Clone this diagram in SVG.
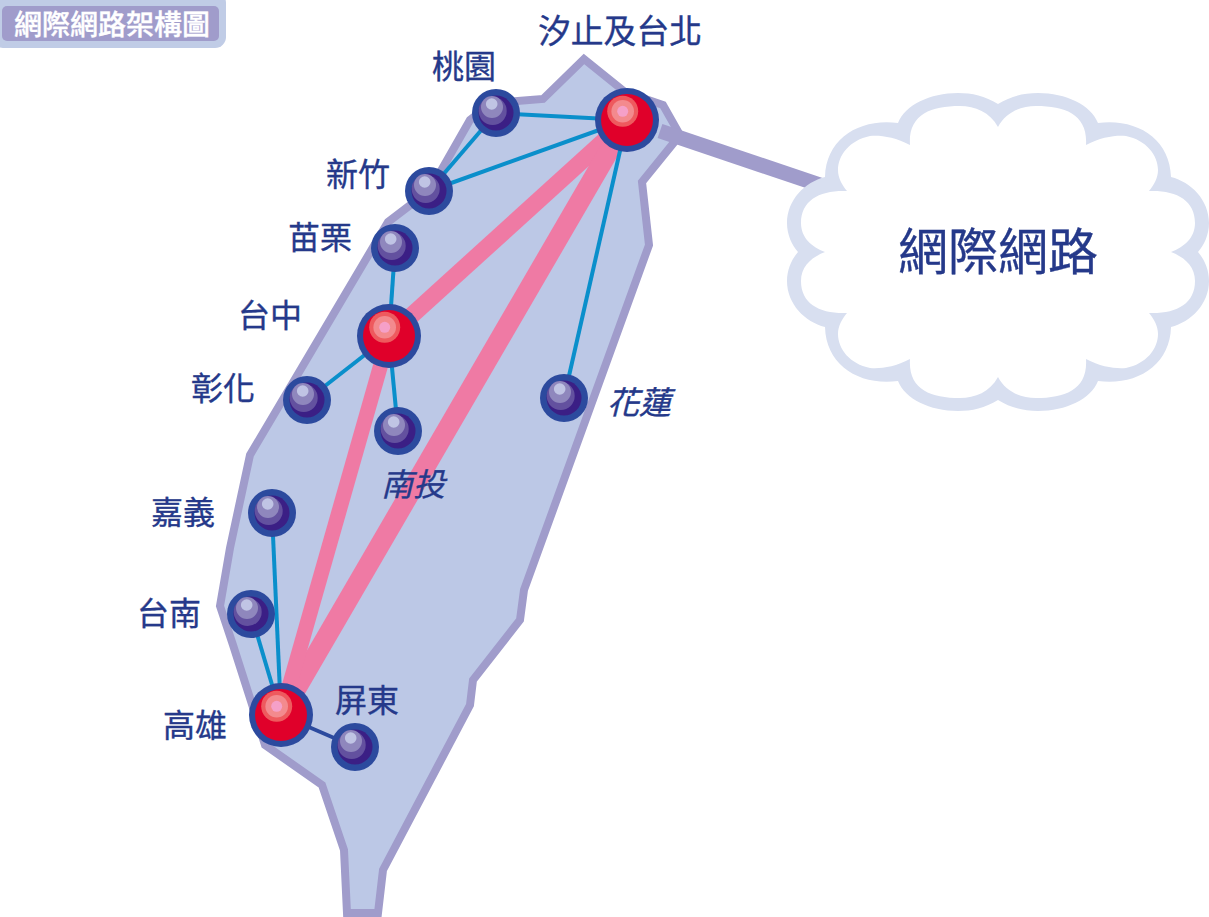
<svg xmlns="http://www.w3.org/2000/svg" width="1209" height="917" viewBox="0 0 1209 917">
<style>
text{font-family:"Noto Sans CJK TC","Noto Sans CJK SC",sans-serif;fill:#25398a;stroke:#25398a;stroke-width:.35;font-size:32px}
.it{font-style:italic}
.pink{stroke:#ef7aa4;fill:none}
.link{stroke:#0a8fcb;stroke-width:4;fill:none}
</style>
<defs>
<g id="small"><circle r="24" fill="#2c4a9e"/><circle r="17.500" fill="#3b1f85"/><circle cx="-3.300" cy="-2" r="14" fill="#63519f"/><circle cx="-4" cy="-6" r="11" fill="#8f87bd"/><circle cx="-4.300" cy="-9" r="5.800" fill="#c0c4e4"/></g>
<g id="big"><circle r="32" fill="#2c4a9e"/><circle r="26" fill="#e0002a"/><circle cx="-4.300" cy="-8.700" r="15.500" fill="#ee5a5e"/><circle cx="-4.300" cy="-8.700" r="11.300" fill="#f38a8e"/><circle cx="-4.300" cy="-8.700" r="5.500" fill="#f5a0c8"/></g>
</defs>
<rect width="1209" height="917" fill="#fff"/>
<g id="title"><rect x="-8" y="-8" width="234" height="56" rx="11" fill="#c0cce6"/><rect x="2" y="6" width="217" height="35" rx="5" fill="#a09ccb"/><text x="14" y="35" style="fill:#fff;stroke:#fff;font-size:28px;font-weight:500">網際網路架構圖</text></g>
<g id="taiwan"><path d="M584,59 L625,92 L663,105 L680,135 L642,182 L649,245 L524,590 L520,620 L473,680 L470,705 L383,870 L378,913 L347,913 L344,850 L322,785 L265,745 L233,645 L220,606 L230,548 L250,455 L388,222 L430,190 L470,120 L492,103 L543,99 Z" fill="#bcc8e6" stroke="#a09ccb" stroke-width="8" stroke-linejoin="miter"/></g>
<g id="connectors">
<path d="M660,131 L835,190" stroke="#a09ccb" stroke-width="15" fill="none"/>
<path class="pink" d="M627,120 L389,336" stroke-width="17"/>
<path class="pink" d="M627,120 L281,715" stroke-width="20"/>
<path class="pink" d="M389,336 L281,715" stroke-width="15"/>
<path class="link" d="M496,113 L627,120"/>
<path class="link" d="M496,113 L429,191"/>
<path class="link" d="M429,191 L627,120"/>
<path class="link" d="M395,248 L389,336"/>
<path class="link" d="M389,336 L307,400" stroke-width="5"/>
<path class="link" d="M389,336 L398,431"/>
<path class="link" d="M627,120 L564,398"/>
<path class="link" d="M272,513 L281,715"/>
<path class="link" d="M251,614 L281,715"/>
<path d="M281,715 L355,747" stroke="#2c4a9e" stroke-width="4" fill="none"/>
</g>
<g id="cloud">
<path d="M998,104 C985,96 972,93 958,93 C930,93 905,105 898,123 C860,118 826,138 825,177 C805,182 787,200 787,223 C787,235 792,245 798,252 C792,259 787,269 787,281 C787,304 805,322 825,327 C826,366 860,386 898,381 C905,399 930,411 958,411 C972,411 985,408 998,400 C1011,408 1024,411 1038,411 C1066,411 1091,399 1098,381 C1136,386 1170,366 1171,327 C1191,322 1209,304 1209,281 C1209,269 1204,259 1198,252 C1204,245 1209,235 1209,223 C1209,200 1191,182 1171,177 C1170,138 1136,118 1098,123 C1091,105 1066,93 1038,93 C1024,93 1011,96 998,104 Z" fill="#d8dff0"/>
<path d="M998,127 C990,112 975,106 960,106 C930,106 908,115 910,145 C895,137 880,135 870,136 C850,140 838,155 838,170 C838,178 842,185 847,191 C820,190 801,200 801,223 C801,238 812,247 825,252 C812,257 801,266 801,281 C801,304 820,314 847,313 C842,319 838,326 838,334 C838,349 850,364 870,368 C880,369 895,367 910,359 C908,389 930,398 960,398 C975,398 990,392 998,377 C1006,392 1021,398 1036,398 C1066,398 1088,389 1086,359 C1101,367 1116,369 1126,368 C1146,364 1158,349 1158,334 C1158,326 1154,319 1149,313 C1176,314 1195,304 1195,281 C1195,266 1184,257 1171,252 C1184,247 1195,238 1195,223 C1195,200 1176,190 1149,191 C1154,185 1158,178 1158,170 C1158,155 1146,140 1126,136 C1116,135 1101,137 1086,145 C1088,115 1066,106 1036,106 C1021,106 1006,112 998,127 Z" fill="#fff"/>
<text x="898" y="270" style="font-size:50px">網際網路</text>
</g>
<g id="n-taipei"><use href="#big" x="627" y="120"/><text x="538" y="43" style="font-size:32.800px">汐止及台北</text></g>
<g id="n-taoyuan"><use href="#small" x="496" y="113"/><text x="432" y="78">桃園</text></g>
<g id="n-hsinchu"><use href="#small" x="429" y="191"/><text x="326" y="186">新竹</text></g>
<g id="n-miaoli"><use href="#small" x="395" y="248"/><text x="288" y="249">苗栗</text></g>
<g id="n-taichung"><use href="#big" x="389" y="336"/><text x="238" y="327">台中</text></g>
<g id="n-changhua"><use href="#small" x="307" y="400"/><text x="191" y="400">彰化</text></g>
<g id="n-nantou"><use href="#small" x="398" y="431"/><text class="it" x="381" y="496">南投</text></g>
<g id="n-hualien"><use href="#small" x="564" y="398"/><text class="it" x="607" y="414">花蓮</text></g>
<g id="n-chiayi"><use href="#small" x="272" y="513"/><text x="151" y="524">嘉義</text></g>
<g id="n-tainan"><use href="#small" x="251" y="614"/><text x="137" y="625">台南</text></g>
<g id="n-kaohsiung"><use href="#big" x="281" y="715"/><text x="163" y="737">高雄</text></g>
<g id="n-pingtung"><use href="#small" x="355" y="747"/><text x="335" y="712">屏東</text></g>
</svg>
